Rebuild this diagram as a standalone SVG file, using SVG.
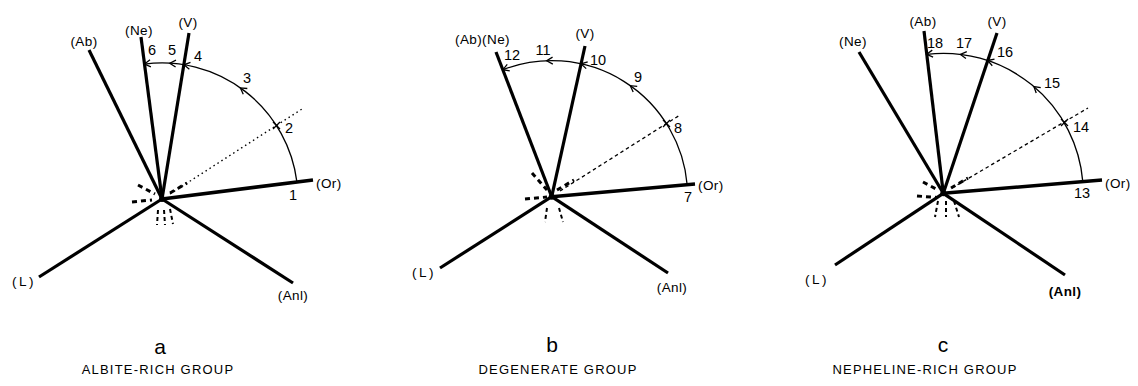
<svg xmlns="http://www.w3.org/2000/svg" xmlns:xlink="http://www.w3.org/1999/xlink" width="1138" height="386" viewBox="0 0 1138 386">
<style>
  .ray{stroke:#000;stroke-width:3.2;fill:none;stroke-linecap:butt}
  .or{stroke:#000;stroke-width:3.6;fill:none}
  .arc{stroke:#000;stroke-width:1.3;fill:none}
  .dot1{stroke:#000;stroke-width:1.4;fill:none;stroke-dasharray:1.5 3.2}
  .dash{stroke:#000;stroke-width:1.3;fill:none;stroke-dasharray:3.5 3}
  .burst{stroke:#000;stroke-width:3;fill:none;stroke-dasharray:5 4}
  .burst2{stroke:#000;stroke-width:2;fill:none;stroke-dasharray:4 3}
  .tick{stroke:#000;stroke-width:1.3;fill:none}
  text{font-family:"Liberation Sans",Arial,sans-serif;fill:#000}
  .lbl{font-size:13.5px;letter-spacing:0.4px}
  .lL{font-size:13.5px;letter-spacing:2.5px;text-anchor:middle}
  .num{font-size:14.5px;text-anchor:middle}
  .big{font-size:21px;text-anchor:middle}
  .ttl{font-size:13px;text-anchor:middle;letter-spacing:1.2px}
</style>
<defs>
  <path id="ah" d="M -6,-3.5 L 0,0 L -6,3.5" fill="none" stroke="#000" stroke-width="1.3"/>
</defs>

<!-- Panel a -->
<g id="panel-a">
  <g id="a-Ab"><line class="ray" x1="89" y1="50" x2="162" y2="199"/><text class="lbl" x="84" y="46" text-anchor="middle">(Ab)</text></g>
  <g id="a-Ne"><line class="ray" x1="141" y1="37" x2="162" y2="199"/><text class="lbl" x="139" y="35" text-anchor="middle">(Ne)</text></g>
  <g id="a-V"><line class="ray" x1="189" y1="33" x2="162" y2="199"/><text class="lbl" x="188" y="27" text-anchor="middle">(V)</text></g>
  <g id="a-Or"><line class="or" x1="162" y1="199" x2="313" y2="180"/><text class="lbl" x="316" y="188">(Or)</text></g>
  <g id="a-L"><line class="ray" x1="162" y1="199" x2="39" y2="277"/><text class="lL" x="24" y="286">(L)</text></g>
  <g id="a-Anl"><line class="ray" x1="162" y1="199" x2="293" y2="283"/><text class="lbl" x="293" y="300" text-anchor="middle">(Anl)</text></g>
  <g id="a-center">
    <circle cx="162" cy="199" r="3"/>
    <path class="burst" d="M132,202 L152,200 M138,185 L155,194 M170,193 L187,183"/>
    <path class="burst2" d="M158,210 L157,225 M164,210 L165,225 M170,209 L173,224"/>
  </g>
  <g id="a-nums">
    <text class="num" x="293" y="200">1</text>
    <text class="num" x="289" y="133">2</text>
    <text class="num" x="247" y="83">3</text>
    <text class="num" x="198" y="61">4</text>
    <text class="num" x="172" y="55">5</text>
    <text class="num" x="152" y="55">6</text>
  </g>
  <text class="big" x="160" y="354">a</text>
  <text class="ttl" x="158" y="374">ALBITE-RICH GROUP</text>
</g>
<g id="connectors-a">
  <line class="dot1" x1="170" y1="194" x2="302" y2="109"/>
  <path class="arc" d="M 296.9,181.9 A 136 136 0 0 0 144.5,64.1"/>
  <path class="tick" d="M273,122 L280,129 M280,122 L273,129"/>
  <use xlink:href="#ah" href="#ah" transform="translate(240.4,87.9) rotate(-144.8)"/>
  <use xlink:href="#ah" href="#ah" transform="translate(184,64.8) rotate(-170.7)"/>
  <use xlink:href="#ah" href="#ah" transform="translate(169.8,63.2) rotate(-176.7)"/>
  <use xlink:href="#ah" href="#ah" transform="translate(144.5,64.1) rotate(-187.4)"/>
</g>

<!-- Panel b -->
<g id="panel-b">
  <g id="b-AbNe"><line class="ray" x1="496" y1="52" x2="551.7" y2="196.7"/><text class="lbl" x="455" y="44">(Ab)(Ne)</text></g>
  <g id="b-V"><line class="ray" x1="585" y1="46" x2="551.7" y2="196.7"/><text class="lbl" x="585" y="38" text-anchor="middle">(V)</text></g>
  <g id="b-Or"><line class="or" x1="551.7" y1="196.7" x2="695" y2="184"/><text class="lbl" x="698" y="190">(Or)</text></g>
  <g id="b-L"><line class="ray" x1="551.7" y1="196.7" x2="440" y2="268"/><text class="lL" x="424" y="277">(L)</text></g>
  <g id="b-Anl"><line class="ray" x1="551.7" y1="196.7" x2="668" y2="273"/><text class="lbl" x="672" y="292" text-anchor="middle">(Anl)</text></g>
  <g id="b-center">
    <circle cx="551.7" cy="196.7" r="3"/>
    <path class="burst" d="M525,199 L547,197 M532,173 L547,190 M557,190 L574,180"/>
    <path class="burst2" d="M547,208 L545,222 M559,208 L563,222"/>
  </g>
  <g id="b-nums">
    <text class="num" x="688" y="202">7</text>
    <text class="num" x="678" y="133">8</text>
    <text class="num" x="638" y="82">9</text>
    <text class="num" x="598" y="65">10</text>
    <text class="num" x="543" y="55">11</text>
    <text class="num" x="512" y="60">12</text>
  </g>
  <text class="big" x="552" y="352">b</text>
  <text class="ttl" x="558" y="374">DEGENERATE GROUP</text>
</g>
<g id="connectors-b">
  <line class="dash" x1="560" y1="191" x2="680" y2="115"/>
  <path class="arc" d="M 687.2,185 A 136 136 0 0 0 502.9,69.7"/>
  <path class="tick" d="M663,120 L670,127 M670,120 L663,127"/>
  <use xlink:href="#ah" href="#ah" transform="translate(630.3,85.7) rotate(-144.7)"/>
  <use xlink:href="#ah" href="#ah" transform="translate(581.1,63.9) rotate(-167.5)"/>
  <use xlink:href="#ah" href="#ah" transform="translate(546.7,60.8) rotate(-182.1)"/>
  <use xlink:href="#ah" href="#ah" transform="translate(502.9,69.7) rotate(-201)"/>
</g>

<!-- Panel c -->
<g id="panel-c">
  <g id="c-Ne"><line class="ray" x1="859" y1="52" x2="943.3" y2="193.3"/><text class="lbl" x="853" y="46" text-anchor="middle">(Ne)</text></g>
  <g id="c-Ab"><line class="ray" x1="924" y1="31" x2="943.3" y2="193.3"/><text class="lbl" x="923" y="26" text-anchor="middle">(Ab)</text></g>
  <g id="c-V"><line class="ray" x1="997" y1="33" x2="943.3" y2="193.3"/><text class="lbl" x="997" y="26" text-anchor="middle">(V)</text></g>
  <g id="c-Or"><line class="or" x1="943.3" y1="193.3" x2="1102" y2="180"/><text class="lbl" x="1105" y="188">(Or)</text></g>
  <g id="c-L"><line class="ray" x1="943.3" y1="193.3" x2="835" y2="265"/><text class="lL" x="817" y="284">(L)</text></g>
  <g id="c-Anl"><line class="ray" x1="943.3" y1="193.3" x2="1065" y2="275"/><text class="lbl" x="1065" y="296" text-anchor="middle" font-weight="bold">(Anl)</text></g>
  <g id="c-center">
    <circle cx="943.3" cy="193.3" r="3"/>
    <path class="burst" d="M917,196 L937,197.5 M923,182 L938,190 M951,188 L968,178"/>
    <path class="burst2" d="M938,201 L935,217 M946,201 L946,217 M954,201 L959,217"/>
  </g>
  <g id="c-nums">
    <text class="num" x="1082" y="198">13</text>
    <text class="num" x="1081" y="132">14</text>
    <text class="num" x="1052" y="88">15</text>
    <text class="num" x="1005" y="57">16</text>
    <text class="num" x="964" y="48">17</text>
    <text class="num" x="935" y="48">18</text>
  </g>
  <text class="big" x="943" y="352">c</text>
  <text class="ttl" x="925" y="374">NEPHELINE-RICH GROUP</text>
</g>
<g id="connectors-c">
  <line class="dash" x1="952" y1="188" x2="1088" y2="108"/>
  <path class="arc" d="M 1082.8,181.6 A 140 140 0 0 0 926.7,54.3"/>
  <path class="tick" d="M1061,119 L1068,126 M1068,119 L1061,126"/>
  <use xlink:href="#ah" href="#ah" transform="translate(1033.9,86.5) rotate(-139.7)"/>
  <use xlink:href="#ah" href="#ah" transform="translate(987.7,60.5) rotate(-161.5)"/>
  <use xlink:href="#ah" href="#ah" transform="translate(960.4,54.4) rotate(-173)"/>
  <use xlink:href="#ah" href="#ah" transform="translate(926.7,54.3) rotate(-186.8)"/>
</g>
</svg>
